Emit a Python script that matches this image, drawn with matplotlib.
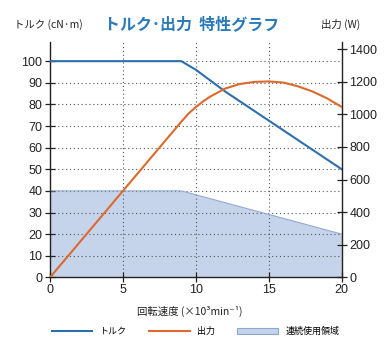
import numpy as np
import matplotlib.pyplot as plt
from matplotlib.lines import Line2D
from matplotlib.patches import Patch

plt.rcParams['font.family'] = ['Noto Sans CJK JP', 'DejaVu Sans']

# data (x = 10^3 min^-1)
speed = [0, 9, 10, 11, 12, 13, 14, 15, 16, 17, 18, 19, 20]
torque = [100, 100, 96, 91, 86, 81.5, 77, 72.5, 68, 63.5, 59, 54.5, 50]
p_speed = [0, 9, 9.5, 10, 10.5, 11, 12, 13, 14, 15, 16, 17, 18, 19, 20]
power = [0, 955, 1005, 1045, 1080, 1110, 1158, 1186, 1199, 1202, 1195, 1172, 1140, 1098, 1045]
area_speed = [0, 9, 20]
area_torque = [40, 40, 20]

x_ticks = [0, 5, 10, 15, 20]
left_ticks = [0, 10, 20, 30, 40, 50, 60, 70, 80, 90, 100]
right_ticks = [0, 200, 400, 600, 800, 1000, 1200, 1400]

blue = '#2b6fae'
orange = '#dc6a2c'
fill_c = '#c6d4eb'
edge_c = '#8ea7cf'

fig = plt.figure(figsize=(3.91, 3.57), dpi=100)
ax = fig.add_axes([0.128, 0.223, 0.746, 0.659])
ax2 = ax.twinx()

ax.fill_between(area_speed, area_torque, 0, color=fill_c, lw=0, zorder=1)
ax.plot(area_speed, area_torque, color=edge_c, lw=0.8, zorder=2)
ax.plot(speed, torque, color=blue, lw=1.5, zorder=4)
ax2.plot(p_speed, power, color=orange, lw=1.5, zorder=4)

ax.set_xlim(0, 20)
ax.set_ylim(0, 108.8)
ax2.set_ylim(0, 1443)
ax.set_xticks(x_ticks)
ax.set_yticks(left_ticks)
ax2.set_yticks(right_ticks)

for a in (ax, ax2):
    a.spines['top'].set_visible(False)
    a.tick_params(direction='inout', length=7, width=0.9, labelsize=9, colors='#222222')
    for lbl in a.get_xticklabels() + a.get_yticklabels():
        lbl.set_fontfamily('Liberation Sans')
ax.tick_params(axis='x', pad=1)
ax.tick_params(axis='y', pad=2)
ax2.tick_params(axis='y', pad=2)

ax.grid(True, linestyle=(0, (1, 2.5)), color='#555555', lw=0.8)
for g in ax.get_xgridlines() + ax.get_ygridlines():
    g.set_zorder(3)

for a in (ax, ax2):
    for s in ('left', 'right', 'bottom'):
        a.spines[s].set_linewidth(1.0)
        a.spines[s].set_color('#222222')
ax.spines['right'].set_visible(False)
ax2.spines['left'].set_visible(False)
ax2.spines['bottom'].set_visible(False)

fig.text(0.49, 0.932, 'トルク･出力  特性グラフ', ha='center', va='center',
         fontsize=11.5, fontweight='bold', color='#2a7ab9')
fig.text(0.035, 0.932, 'トルク (cN·m)', ha='left', va='center', fontsize=7.5, color='#222222')
fig.text(0.82, 0.932, '出力 (W)', ha='left', va='center', fontsize=7.5, color='#222222')
fig.text(0.485, 0.128, '回転速度 (×10³min⁻¹)', ha='center', va='center', fontsize=7.5,
         color='#222222')

handles = [Line2D([0], [0], color=blue, lw=1.5),
           Line2D([0], [0], color=orange, lw=1.5),
           Patch(facecolor=fill_c, edgecolor=edge_c, lw=0.8)]
labels = ['トルク', '出力', '連続使用領域']
fig.legend(handles, labels, loc='center', bbox_to_anchor=(0.5, 0.072), ncol=3,
           frameon=False, fontsize=6.5, handlelength=4.5, handletextpad=0.8,
           columnspacing=2.5)

fig.savefig('out.png', dpi=100)
